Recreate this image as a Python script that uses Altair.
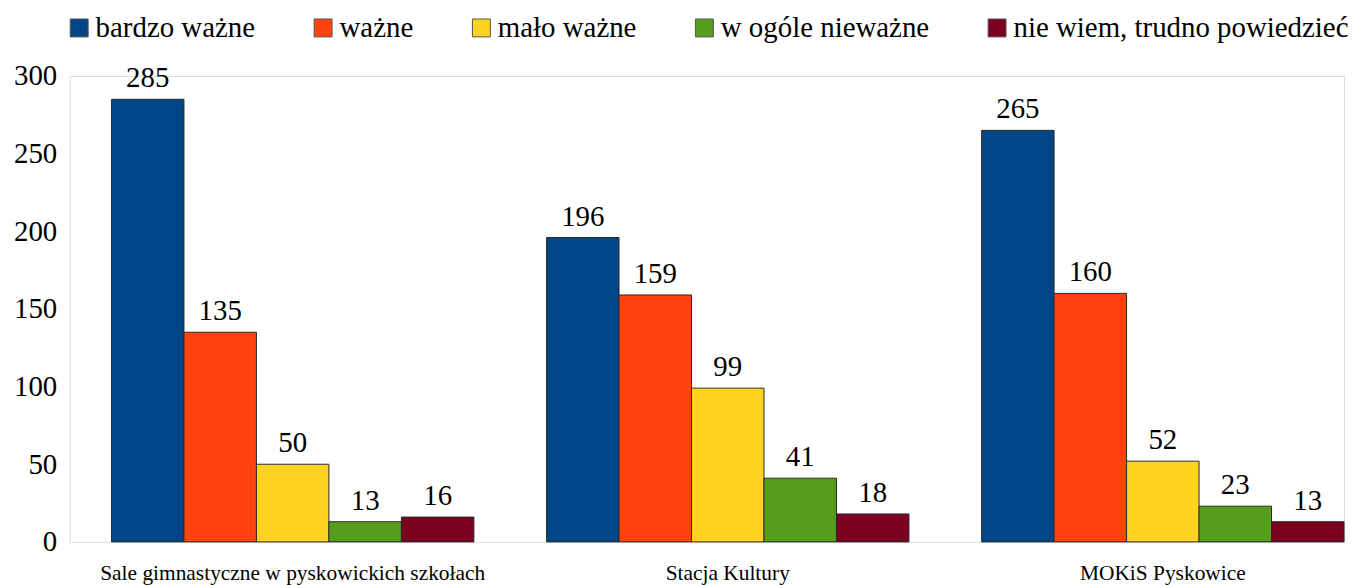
import altair as alt
import pandas as pd

categories = ["Sale gimnastyczne w pyskowickich szkołach", "Stacja Kultury", "MOKiS Pyskowice"]
series = ["bardzo ważne", "ważne", "mało ważne", "w ogóle nieważne", "nie wiem, trudno powiedzieć"]
colors = ["#004586", "#ff420e", "#ffd320", "#579d1c", "#7e0021"]
values = {
    "bardzo ważne": [285, 196, 265],
    "ważne": [135, 159, 160],
    "mało ważne": [50, 99, 52],
    "w ogóle nieważne": [13, 41, 23],
    "nie wiem, trudno powiedzieć": [16, 18, 13],
}
y_ticks = [0, 50, 100, 150, 200, 250, 300]

rows = []
for s in series:
    for c, v in zip(categories, values[s]):
        rows.append({"kategoria": c, "seria": s, "wartosc": v})
df = pd.DataFrame(rows)

FONT = "Liberation Serif"

x_enc = alt.X(
    "kategoria:N",
    sort=categories,
    title=None,
    scale=alt.Scale(paddingInner=0.167, paddingOuter=0.048, align=1),
    axis=alt.Axis(labelAngle=0, domain=False, ticks=False, labelFont=FONT,
                  labelFontSize=21.5, labelColor="#000", labelPadding=21, labelLimit=600),
)
xo_enc = alt.XOffset("seria:N", sort=series, scale=alt.Scale(paddingInner=0, paddingOuter=0))
y_enc = alt.Y(
    "wartosc:Q",
    title=None,
    scale=alt.Scale(domain=[0, 300], nice=False),
    axis=alt.Axis(values=y_ticks, grid=False, domain=False, ticks=False, labelFont=FONT,
                  labelFontSize=29, labelColor="#000", labelPadding=13),
)

base = alt.Chart(df)

bars = base.mark_bar(stroke="#2a2a2a", strokeWidth=1).encode(
    x=x_enc,
    xOffset=xo_enc,
    y=y_enc,
    color=alt.Color(
        "seria:N",
        sort=series,
        scale=alt.Scale(domain=series, range=colors),
        legend=alt.Legend(
            title=None,
            orient="none",
            legendX=-5,
            legendY=-63,
            direction="horizontal",
            columns=5,
            symbolType="square",
            symbolSize=324,
            symbolStrokeColor="#555",
            symbolStrokeWidth=1,
            symbolOpacity=1,
            labelFont=FONT,
            labelFontSize=29,
            labelColor="#000",
            labelOffset=2,
            labelLimit=600,
            columnPadding=53,
        ),
    ),
)

labels = base.mark_text(font=FONT, fontSize=29, color="#000", baseline="alphabetic", dy=-12).encode(
    x=alt.X("kategoria:N", sort=categories),
    xOffset=alt.XOffset("seria:N", sort=series),
    y=alt.Y("wartosc:Q"),
    text=alt.Text("wartosc:Q"),
)

chart = (
    alt.layer(bars, labels)
    .properties(
        width=1280,
        height=468,
        padding={"left": 62, "top": 67, "right": 4, "bottom": 42},
        autosize=alt.AutoSizeParams(type="none"),
    )
    .configure_view(stroke=None)
    .configure(background="white")
)

chart.save("out.html", embed_options={"renderer": "svg", "actions": False})
